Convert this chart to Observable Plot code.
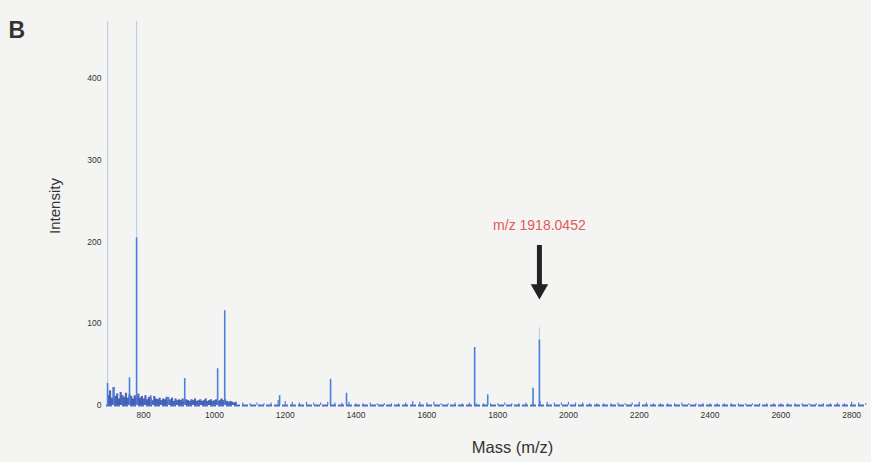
<!DOCTYPE html>
<html><head><meta charset="utf-8">
<script src="https://cdn.jsdelivr.net/npm/d3@7"></script>
<script src="https://cdn.jsdelivr.net/npm/@observablehq/plot@0.6"></script>
<style>
html,body{margin:0;padding:0;background:#f4f4f2;}
#chart svg{display:block;font-family:"Liberation Sans",Arial,sans-serif;}
</style></head><body><div id="chart"></div>
<script>
// Main peaks (m/z, intensity)
const peakMz  = [698, 715, 760, 780, 820, 870, 916, 1009, 1029, 1184, 1328, 1373, 1735, 1772, 1900, 1918];
const peakInt = [27, 22, 34, 205, 12, 10, 33, 45, 116, 12, 32, 15, 71, 13, 21, 80];
// Faint (washed-out) upper parts of peaks
const faintMz  = [698, 780, 1918];
const faintInt = [470, 470, 95];
// Baseline noise, dense low-mass region (step 5 from 700)
const noiseDenseMz = d3.range(700, 1061, 5);
const noiseDenseInt = [12,18,9,22,11,14,8,16,12,10,15,9,13,11,8,12,10,14,9,11,8,12,7,10,9,6,11,8,7,9,6,8,7,10,6,7,9,5,8,6,7,6,8,5,7,6,5,7,6,8,5,6,7,5,6,8,5,6,7,5,6,7,5,6,8,6,7,5,4,5,4,3,4];
// Baseline noise, high-mass region (step 20 from 1080)
const noiseSparseMz = d3.range(1080, 2841, 20);
const noiseSparseInt = [3,2,3,2,3,6,5,4,3,4,3,3,4,3,3,4,2,2,3,2,2,2,2,3,5,4,3,4,2,2,3,2,3,2,2,2,2,3,2,2,3,2,5,4,3,3,4,3,3,2,2,2,2,3,2,3,4,3,2,2,2,2,3,2,2,2,2,2,2,2,2,2,2,2,2,2,2,2,2,2,2,2,2,2,3,2,4,3,2];
const xTicks = [800,1000,1200,1400,1600,1800,2000,2200,2400,2600,2800];
const yTicks = [0,100,200,300,400];
const annMz = [1918];
const annLabel = ["m/z 1918.0452"];
const annLabelInt = [220];
const arrowTop = [186];
const arrowTip = [136];

const peaks = peakMz.map((m,i)=>({mz:m, v:peakInt[i]}));
const faint = faintMz.map((m,i)=>({mz:m, v:faintInt[i]}));
const dense = noiseDenseMz.map((m,i)=>({mz:m, v:noiseDenseInt[i]}));
const sparse = noiseSparseMz.map((m,i)=>({mz:m, v:noiseSparseInt[i]}));
const ann = annMz.map((m,i)=>({mz:m, label:annLabel[i], ly:annLabelInt[i], y1:arrowTop[i], y2:arrowTip[i]}));

const chart = Plot.plot({
  width: 871, height: 462,
  marginLeft: 106, marginRight: 5, marginTop: 20, marginBottom: 57,
  style: {background: "transparent", color: "#333", fontSize: "8.5px"},
  x: {domain: [695, 2842], ticks: xTicks, tickFormat: d3.format("d"), tickSize: 0, tickPadding: 6, label: null},
  y: {domain: [0, 471], ticks: yTicks, tickFormat: d3.format("d"), tickSize: 0, tickPadding: 5, label: null},
  marks: [
    Plot.ruleX(faint, {x: "mz", y1: 0, y2: "v", stroke: "#9ab8e8", strokeOpacity: 0.6, strokeWidth: 1.2}),
    Plot.ruleX(dense, {x: "mz", y1: 0, y2: "v", stroke: "#2f4cad", strokeWidth: 2.2, strokeOpacity: 0.85}),
    Plot.ruleX(sparse, {x: "mz", y1: 0, y2: "v", stroke: "#3a5cc0", strokeWidth: 1.2, strokeOpacity: 0.8}),
    Plot.ruleY([0], {stroke: "#4a6fd0", strokeWidth: 1.8, strokeDasharray: "6,2"}),
    Plot.ruleX(peaks, {x: "mz", y1: 0, y2: "v", stroke: "#4a80dc", strokeWidth: 1.6}),
    Plot.ruleX(ann, {x: "mz", y1: "y1", y2: "y2", stroke: "#222", strokeWidth: 5, dy: -8}),
    Plot.dot(ann, {x: "mz", y: "y2", symbol: "triangle", rotate: 180, r: 6.5, fill: "#222", dy: -5}),
    Plot.text(ann, {x: "mz", y: "ly", text: "label", fill: "#e05a5a", fontSize: 14}),
    Plot.text(["Intensity"], {frameAnchor: "left", textAnchor: "middle", rotate: -90, dx: -51, dy: -7, fontSize: 15, fill: "#333"}),
    Plot.text(["Mass (m/z)"], {frameAnchor: "bottom", dx: 26, dy: 47, fontSize: 16.5, fill: "#333"}),
    Plot.text(["B"], {frameAnchor: "top-left", textAnchor: "start", dx: -98, dy: 1, fontSize: 23, fontWeight: "bold", fill: "#333"})
  ]
});
document.getElementById("chart").appendChild(chart);
</script></body></html>
